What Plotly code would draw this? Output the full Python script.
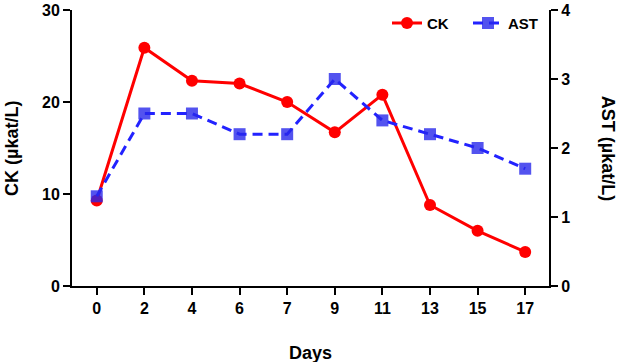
import plotly.graph_objects as go

days = ["0", "2", "4", "6", "7", "9", "11", "13", "15", "17"]
ck = [9.3, 25.9, 22.3, 22.0, 20.0, 16.7, 20.8, 8.8, 6.0, 3.7]
ast = [1.3, 2.5, 2.5, 2.2, 2.2, 3.0, 2.4, 2.2, 2.0, 1.7]

FONT = "Arial, Liberation Sans, sans-serif"

fig = go.Figure()
fig.add_trace(go.Scatter(
    x=days, y=ck, name="CK", mode="lines+markers",
    line=dict(color="#ff0000", width=3),
    marker=dict(symbol="circle", size=12, color="#ff0000"),
))
fig.add_trace(go.Scatter(
    x=days, y=ast, name="AST", mode="lines+markers", yaxis="y2",
    line=dict(color="#2222ff", width=3, dash="10px,6px"),
    marker=dict(symbol="square", size=12, color="rgba(40,40,235,0.8)"),
))

tick_font = dict(family=FONT, size=16, color="black", weight="bold")
title_font = dict(family=FONT, size=18, color="black", weight="bold")

axis_common = dict(
    showgrid=False, zeroline=False, showline=True, linecolor="black", linewidth=2,
    ticks="outside", ticklen=7, tickwidth=2, tickcolor="black",
    tickfont=tick_font,
)

fig.update_layout(
    width=624, height=362,
    margin=dict(l=72, r=75, t=10, b=76, autoexpand=False),
    plot_bgcolor="white", paper_bgcolor="white",
    xaxis=dict(type="category", range=[-0.52, 9.5], **axis_common),
    yaxis=dict(range=[0, 30], tickvals=[0, 10, 20, 30], **axis_common),
    yaxis2=dict(range=[0, 4], tickvals=[0, 1, 2, 3, 4], overlaying="y", side="right", anchor="x",
                **axis_common),
    legend=dict(orientation="h", x=1.0, xanchor="right", y=1.012, yanchor="top",
                entrywidth=36,
                font=dict(family=FONT, size=15, color="black", weight="bold"),
                bgcolor="rgba(0,0,0,0)"),
    annotations=[
        dict(text="CK (µkat/L)", textangle=-90, xref="paper", yref="paper",
             x=-0.126, y=0.5, xanchor="center", yanchor="middle", showarrow=False,
             font=title_font),
        dict(text="AST (µkat/L)", textangle=90, xref="paper", yref="paper",
             x=1.124, y=0.5, xanchor="center", yanchor="middle", showarrow=False,
             font=title_font),
        dict(text="Days", xref="paper", yref="paper",
             x=0.5, y=-0.243, xanchor="center", yanchor="middle", showarrow=False,
             font=title_font),
    ],
)

fig.write_html("out.html", config={"displayModeBar": False},
               post_script="document.body.style.margin='0';")
